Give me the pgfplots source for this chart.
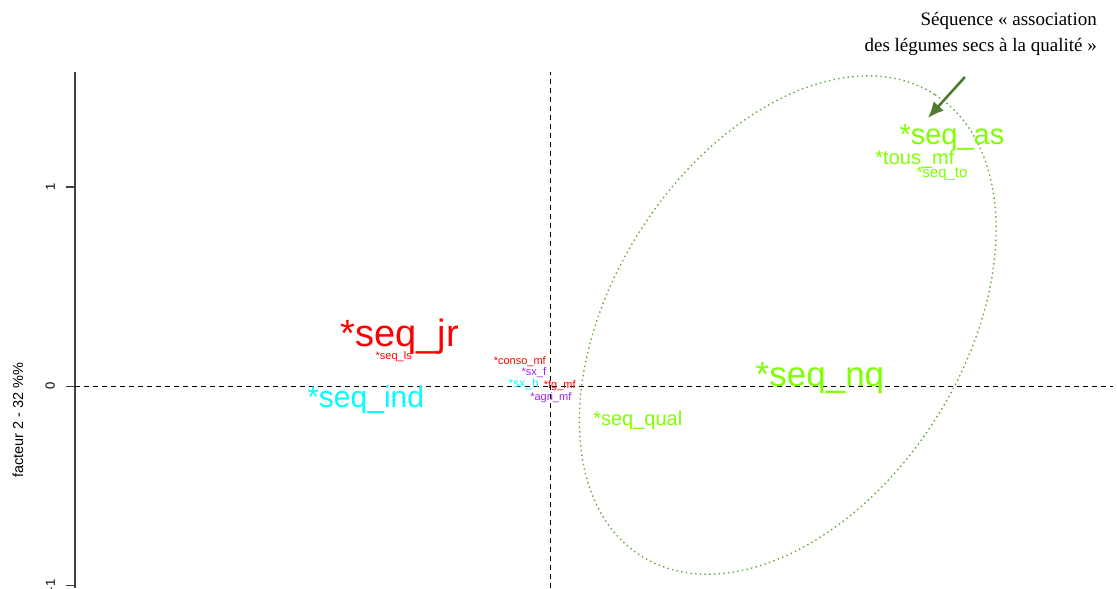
\documentclass[border=0pt]{standalone}
\usepackage{fontspec}
\setmainfont{Liberation Sans}
\newfontfamily\seriffont{Liberation Serif}
\usepackage{pgfplots}
\usepackage{pgfplotstable}
\pgfplotsset{compat=1.18}
\usetikzlibrary{arrows.meta}
\definecolor{cred}{HTML}{FF0000}
\definecolor{ccyan}{HTML}{00FFFF}
\definecolor{cpurple}{HTML}{A020F0}
\definecolor{cgreen}{HTML}{7FFF00}
\definecolor{cell}{HTML}{5FA83A}
\definecolor{carrow}{HTML}{4E7D2E}

\pgfplotstableread{
x y s label
-0.759 0.251 38 {*seq\_jr}
-0.789 0.146 11 {*seq\_ls}
-0.156 0.121 11 {*conso\_mf}
0.045 0.005 11 {*fg\_mf}
}\redtab
\pgfplotstableread{
x y s label
-0.930 -0.070 30 {*seq\_ind}
-0.136 0.010 12 {*sx\_h}
}\cyantab
\pgfplotstableread{
x y s label
-0.085 0.070 11 {*sx\_f}
0.000 -0.060 11 {*agri\_mf}
}\purpletab
\pgfplotstableread{
x y s label
1.352 0.040 35 {*seq\_nq}
0.437 -0.171 20 {*seq\_qual}
2.015 1.251 29 {*seq\_as}
1.829 1.141 20 {*tous\_mf}
1.965 1.065 15 {*seq\_to}
}\greentab

\pgfplotsset{
  lab/.style={draw=none, mark=none, nodes near coords, point meta=explicit symbolic,
    visualization depends on={\thisrow{s} \as \fs},
    every node near coord/.style={anchor=center, inner sep=0pt, text=#1,
      font=\fontsize{\fs}{\fs}\selectfont}},
}

\begin{document}
\begin{tikzpicture}
\begin{axis}[
  x=199pt, y=199pt,
  xmin=-2.39, xmax=2.844, ymin=-1.015, ymax=1.578,
  hide x axis,
  axis y line*=left,
  ytick={-1,0,1},
  ytick pos=left,
  tick align=outside,
  major tick length=9pt,
  y axis line style={draw=black!75, line width=1.3pt},
  ytick style={draw=black!75, line width=1.3pt},
  /pgf/number format/assume math mode=true,
  yticklabel style={rotate=90, anchor=south, inner sep=0pt, font=\fontsize{13}{13}\selectfont, yshift=11pt},
  clip=false,
]
\draw[black, line width=1.1pt, dash pattern=on 5pt off 4pt] (axis cs:-2.39,0) -- (axis cs:2.824,0);
\draw[black, line width=1.1pt, dash pattern=on 5pt off 4pt] (axis cs:0,-1.015) -- (axis cs:0,1.578);
\draw[cell, line width=1.4pt, dash pattern=on 1.4pt off 3.3pt] (axis cs:1.190,0.307) ellipse [x radius=273.4pt, y radius=175.1pt, rotate=57.5];
\addplot[lab=cred] table[x=x, y=y, meta=label] {\redtab};
\addplot[lab=ccyan] table[x=x, y=y, meta=label] {\cyantab};
\addplot[lab=cpurple] table[x=x, y=y, meta=label] {\purpletab};
\addplot[lab=cgreen] table[x=x, y=y, meta=label] {\greentab};
\draw[carrow, line width=2.6pt, -{Latex[length=16pt, width=14pt]}] (axis cs:2.080,1.553) -- (axis cs:1.894,1.347);
\coordinate (bl) at (axis cs:-2.39,-1.015);
\coordinate (tr) at (axis cs:2.844,1.578);
\coordinate (yl) at (axis cs:-2.39,-0.171);
\end{axis}
\node[rotate=90, inner sep=0pt, font=\fontsize{14.5}{14.5}\selectfont] at ([xshift=-57pt]yl) {facteur 2 - 32 \%\%};
\node[anchor=base east, inner sep=0pt, font=\seriffont\fontsize{19}{19}\selectfont] at ([xshift=-20pt, yshift=47pt]tr) {Séquence « association};
\node[anchor=base east, inner sep=0pt, font=\seriffont\fontsize{19}{19}\selectfont] at ([xshift=-20pt, yshift=21pt]tr) {des légumes secs à la qualité »};
\pgfresetboundingbox
\useasboundingbox ([xshift=-75pt]bl) rectangle ([yshift=72pt]tr);
\end{tikzpicture}
\end{document}
